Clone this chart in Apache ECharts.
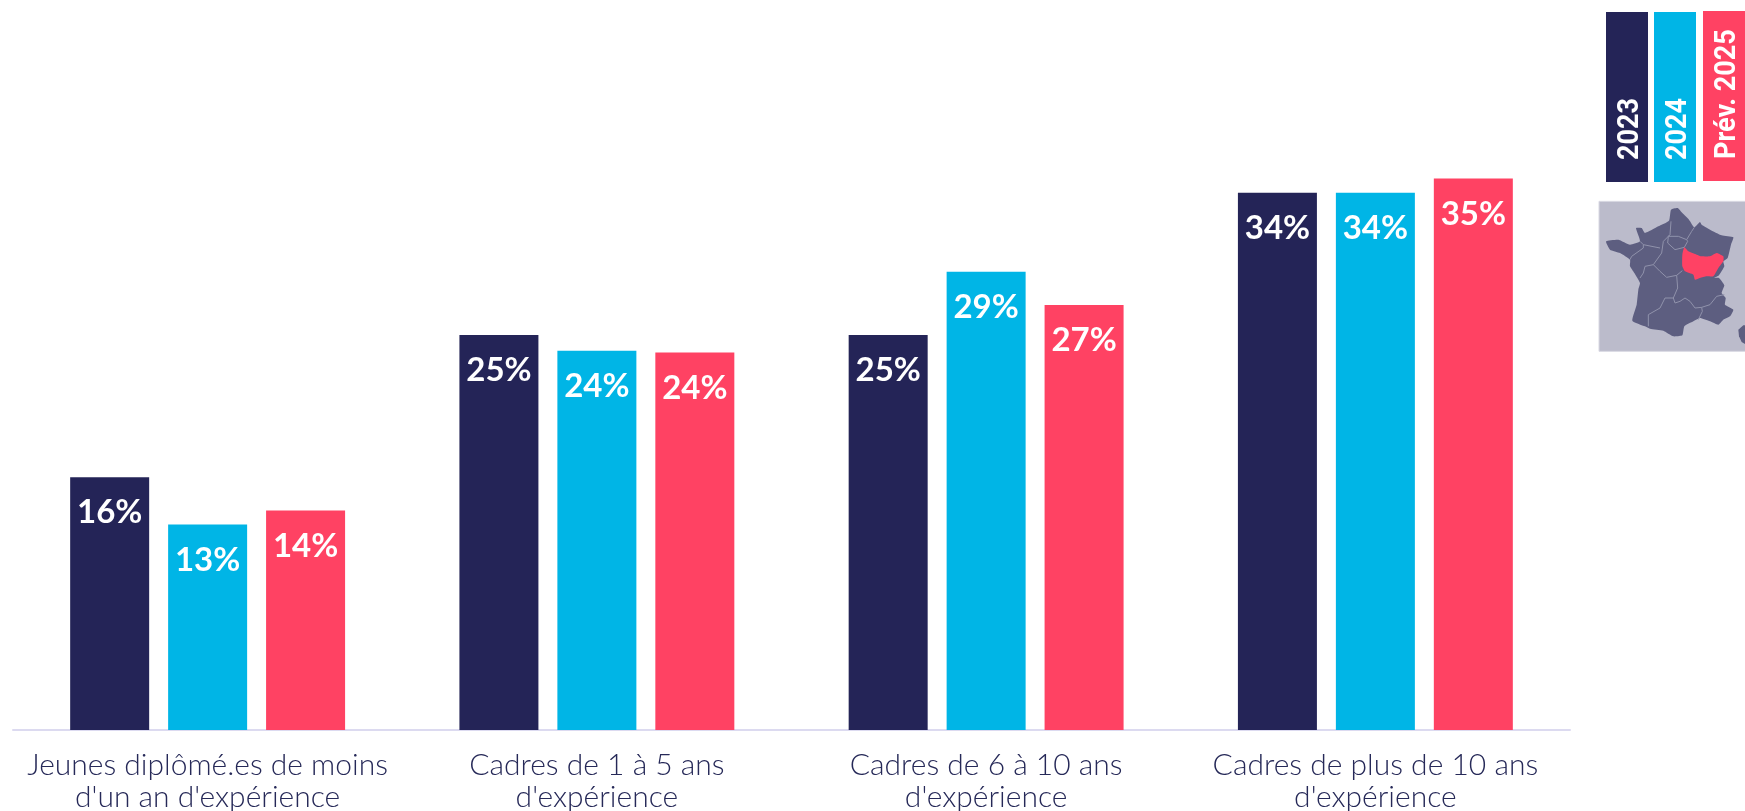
<!DOCTYPE html>
<html><head><meta charset="utf-8">
<style>html,body{margin:0;padding:0;background:#fff}#c{width:1745px;height:811px}</style>
<script src="https://cdn.jsdelivr.net/npm/echarts@6/dist/echarts.min.js"></script>
</head><body><div id="c"></div>
<script>
const categories = ["Jeunes diplômé.es de moins\nd'un an d'expérience","Cadres de 1 à 5 ans\nd'expérience","Cadres de 6 à 10 ans\nd'expérience","Cadres de plus de 10 ans\nd'expérience"];
const values2023 = [16, 25, 25, 34];
const values2024 = [13, 24, 29, 34];
const valuesPrev2025 = [13.9, 23.9, 26.9, 34.9];
const seriesNames = ["2023","2024","Prév. 2025"];
const colors = ["#242457","#00b5e6","#ff4263"];

const france = [[228,35],[248,30],[262,45],[282,65],[298,88],[315,72],[320,80],[345,95],[380,112],[415,118],[408,140],[398,180],[385,190],[388,205],[372,232],[358,240],[372,240],[388,262],[380,285],[392,300],[390,320],[415,335],[405,355],[385,365],[370,380],[345,370],[315,360],[295,370],[268,385],[262,412],[235,415],[205,398],[165,392],[150,385],[112,368],[125,320],[130,275],[135,255],[118,225],[105,205],[105,185],[75,165],[45,155],[33,130],[70,125],[105,140],[135,130],[123,90],[140,90],[150,105],[190,85],[222,68]];
const bourgogne = [[268,148],[280,160],[305,170],[320,175],[345,175],[365,165],[385,175],[385,190],[370,210],[355,235],[335,235],[315,240],[300,245],[295,230],[270,220],[262,205],[262,170]];
const corsica = [[445,382],[450,382],[450,438],[440,432],[432,415],[430,395]];
const borders = [
 [[228,70],[225,110],[220,115],[250,115],[275,125],[290,100],[298,88]],
 [[220,115],[218,135],[240,155],[268,148],[278,130],[275,125]],
 [[225,110],[205,130],[200,165],[175,200]],
 [[135,130],[145,140],[195,150]],
 [[145,140],[145,150],[110,175],[105,185]],
 [[175,200],[150,205],[145,225],[135,240]],
 [[175,200],[195,220],[215,238],[245,232],[262,218]],
 [[245,232],[248,270],[235,300],[240,315],[255,310],[270,300],[285,310],[300,330],[320,328],[345,320],[365,295],[388,290]],
 [[235,300],[210,300],[195,330],[160,350],[160,385]],
 [[320,328],[322,340],[310,365]]
];

const chart = echarts.init(document.getElementById('c'),null,{renderer:'canvas'});
function mkSeries(name,data,color){
  return {type:'bar',name,data,barWidth:79,barGap:'24%',
    itemStyle:{color},
    label:{show:true,position:'insideTop',distance:19,color:'#fff',fontFamily:'Lato',fontWeight:'bold',fontSize:33,
      formatter:p=>Math.round(p.value)+'%'}};
}
function legendBox(x,y,h,i){
  return [{type:'rect',shape:{x,y,width:42,height:h},style:{fill:colors[i]}},
    {type:'text',x:x+24,y:y+h-22,rotation:Math.PI/2,scaleX:0.9,
      style:{text:seriesNames[i],fill:'#fff',font:'bold 30px Roboto',align:'left',verticalAlign:'middle'},z:5}];
}
const mapChildren = [
  {type:'rect',shape:{x:12,y:10,width:450,height:450},style:{fill:'#bbbbcb',stroke:'#d9d9e3',lineWidth:3}},
  {type:'polygon',shape:{points:france,smooth:0.15},style:{fill:'#5d5e80'}},
  {type:'polygon',shape:{points:corsica},style:{fill:'#5d5e80'}},
  ...borders.map(b=>({type:'polyline',shape:{points:b},style:{stroke:'#9092ab',lineWidth:3,fill:null}})),
  {type:'polygon',shape:{points:bourgogne,smooth:0.15},style:{fill:'#ff4264'},z:3}
];
chart.setOption({
  animation:false,
  backgroundColor:'#fff',
  grid:{left:13,width:1557,top:177,height:553,outerBoundsMode:'none'},
  xAxis:{type:'category',data:categories,axisTick:{show:false},
    axisLine:{lineStyle:{color:'#dcdaf0',width:2}},
    axisLabel:{interval:0,margin:19,color:'#262958',fontFamily:'Lato',fontWeight:300,fontSize:30,lineHeight:32}},
  yAxis:{type:'value',min:0,max:35,show:false,splitLine:{show:false}},
  series:[mkSeries(seriesNames[0],values2023,colors[0]),mkSeries(seriesNames[1],values2024,colors[1]),mkSeries(seriesNames[2],valuesPrev2025,colors[2])],
  graphic:[
    ...legendBox(1606,12,170,0),...legendBox(1654,12,170,1),...legendBox(1703,11,170,2),
    {type:'group',x:1595,y:198,scaleX:1/3,scaleY:1/3,children:mapChildren}
  ]
});
</script></body></html>
